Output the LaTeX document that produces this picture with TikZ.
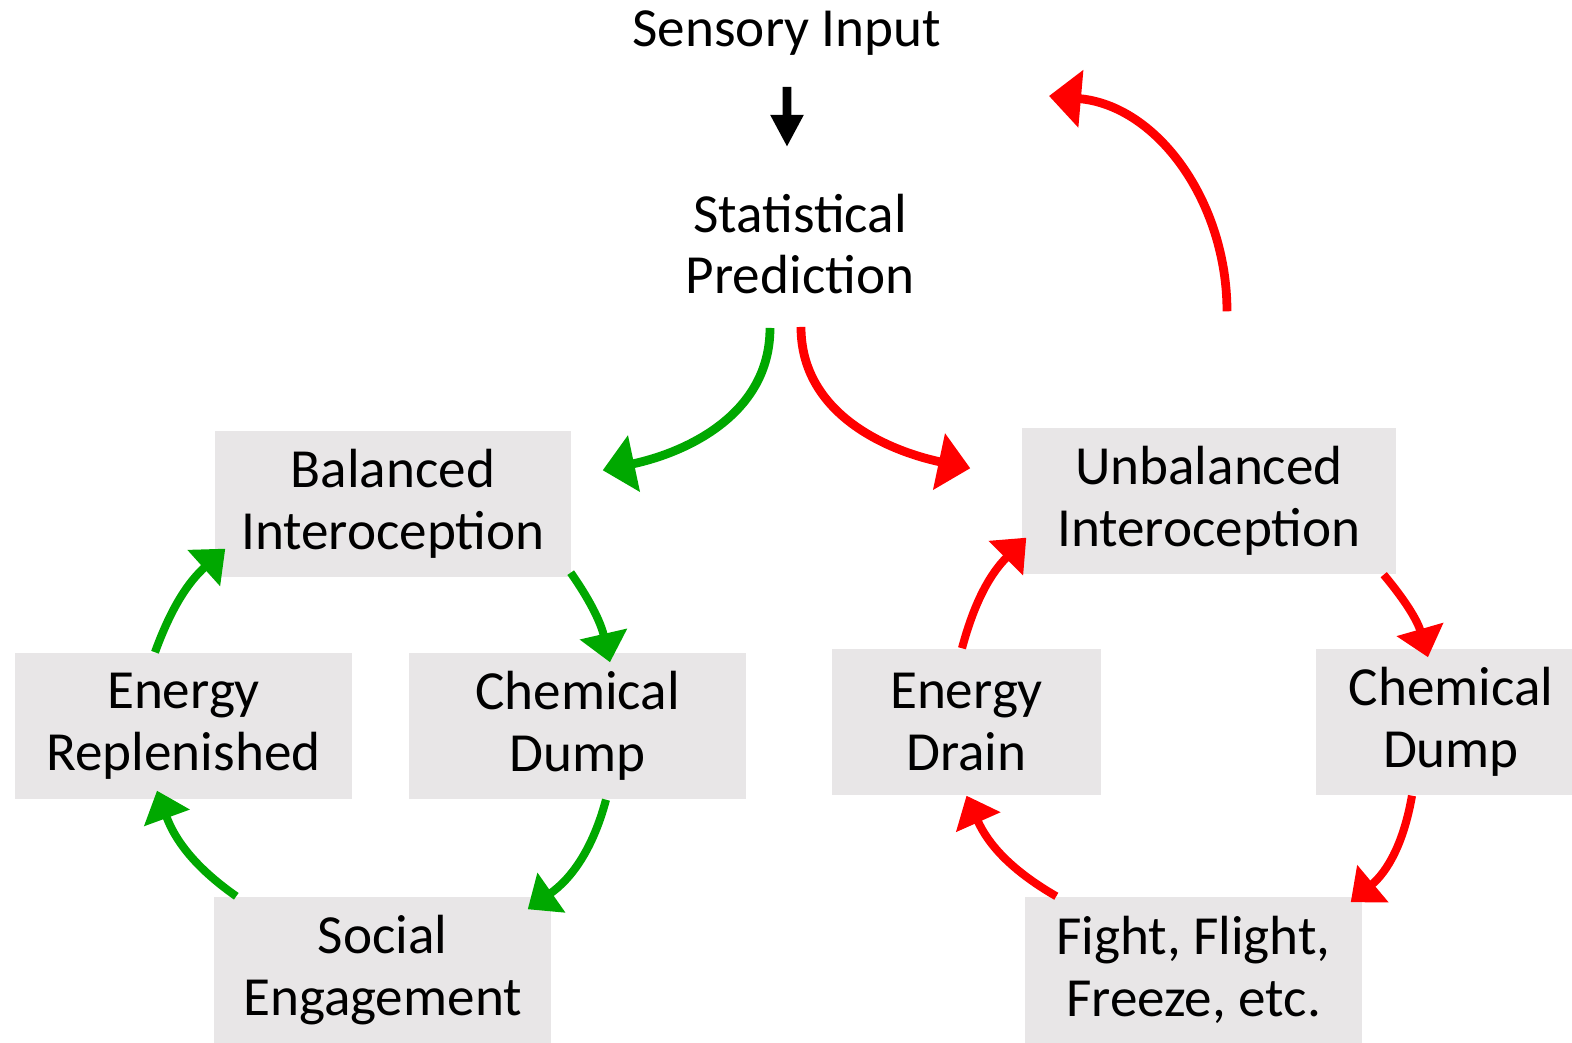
\documentclass[tikz,border=0pt]{standalone}
\usepackage{fontspec}
\setmainfont{Carlito}
\usepackage{tikz}
\usetikzlibrary{arrows.meta,positioning}

\definecolor{boxgray}{HTML}{E8E6E7}
\definecolor{calmgreen}{HTML}{00A800}
\definecolor{alarmred}{HTML}{FF0000}
\newcommand{\bodyfont}{\fontsize{15.7}{17.6}\selectfont}

\begin{document}
\begin{tikzpicture}[on grid,
  lbl/.style={inner sep=0pt, align=center, font=\bodyfont},
  box/.style={lbl, fill=boxgray, minimum height=1.46cm},
  calm/.style={draw=calmgreen, line width=2.3pt, -{Triangle[length=0.29cm,width=0.47cm]}},
  alarm/.style={draw=alarmred, line width=2.3pt, -{Triangle[length=0.29cm,width=0.47cm]}},
  bigtip/.style={line width=2.5pt, -{Triangle[length=0.32cm,width=0.56cm]}}]
\useasboundingbox (0,0) rectangle (15.72,10.43);
\clip (0,0) rectangle (15.72,10.43);

\node[lbl] (sens) at (7.87,10.095) {Sensory Input};
\node[lbl] (stat) at (8.00,7.99) {Statistical\\Prediction};

% balanced loop
\node[box, minimum width=3.56cm] (bal) at (3.93,5.39) {Balanced\\Interoception};
\node[box, minimum width=3.37cm] (er) [below left=2.22cm and 2.095cm of bal] {Energy\\Replenished};
\node[box, minimum width=3.37cm] (cdl) [below right=2.22cm and 1.845cm of bal] {Chemical\\Dump};
\node[box, minimum width=3.37cm] (soc) [below left=4.66cm and 0.105cm of bal] {Social\\Engagement};

% unbalanced loop
\node[box, minimum width=3.74cm] (ub) at (12.09,5.42) {Unbalanced\\Interoception};
\node[box, minimum width=2.69cm] (ed) [below left=2.21cm and 2.425cm of ub] {Energy\\Drain};
\node[box, minimum width=2.70cm] (cdr) [below right=2.21cm and 2.42cm of ub] {Chemical\\Dump};
\node[box, minimum width=3.37cm] (ffz) [below left=4.69cm and 0.155cm of ub] {Fight, Flight,\\Freeze, etc.};

\coordinate (back) at ([shift={(2.62,-0.625)}]sens.center);

\draw[line width=2.5pt, -{Triangle[length=0.32cm,width=0.31cm]}]
  ([yshift=-0.535cm]sens.center) -- ([shift={(-0.13,0.97)}]stat.center);

\path
([shift={(-0.30,-0.84)}]stat.center) edge [calm, bigtip, out=-90, in=12] ([shift={(0.31,-0.40)}]bal.north east)
([shift={(0.01,-0.83)}]stat.center) edge [alarm, bigtip, out=-90, in=168] ([shift={(-0.51,-0.41)}]ub.north west)
([shift={(0.18,1.16)}]ub.north) edge [alarm, bigtip, out=90, in=-5] (back)

([xshift=-0.285cm]er.north) edge [calm, out=70, in=222] ([shift={(0.11,0.29)}]bal.south west)
([shift={(-0.01,0.05)}]bal.south east) edge [calm, out=-55, in=103] ([shift={(0.325,-0.10)}]cdl.north)
([xshift=0.285cm]cdl.south) edge [calm, out=-105, in=35] ([shift={(-0.24,-0.13)}]soc.north east)
([xshift=0.23cm]soc.north west) edge [calm, out=145, in=-70] ([shift={(-0.265,0.09)}]er.south)

([xshift=-0.045cm]ed.north) edge [alarm, out=75, in=225] ([shift={(0.05,0.37)}]ub.south west)
([xshift=-0.13cm]ub.south east) edge [alarm, out=-50, in=106] ([shift={(-0.23,-0.09)}]cdr.north)
([xshift=-0.39cm]cdr.south) edge [alarm, out=-100, in=40] ([shift={(-0.12,-0.06)}]ffz.north east)
([xshift=0.32cm]ffz.north west) edge [alarm, out=150, in=-66] (ed.south)
; %end path
\end{tikzpicture}
\end{document}
